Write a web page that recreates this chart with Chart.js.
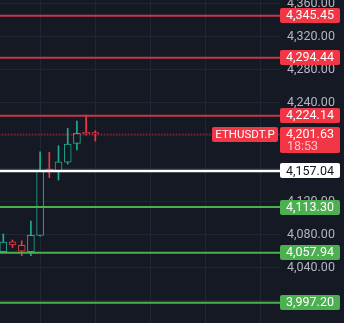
<!DOCTYPE html>
<html><head><meta charset="utf-8">
<script src="https://cdn.jsdelivr.net/npm/chart.js@4/dist/chart.umd.min.js"></script>
<style>html,body{margin:0;padding:0;background:#151924;overflow:hidden}#wrap{width:344px;height:323px;position:relative}</style>
</head><body><div id="wrap"><canvas id="c"></canvas></div>
<script>
// ---- data ----
const candleIndex = [0,1,2,3,4,5,6,7,8,9,10];
const opens  = [4059.1, 4071.2, 4066.9, 4059.1, 4079.0, 4159.4, 4156.2, 4167.6, 4190.6, 4204.0, 4203.7];
const highs  = [4080.6, 4073.3, 4072.3, 4096.3, 4180.4, 4179.7, 4187.7, 4208.8, 4217.7, 4225.0, 4205.9];
const lows   = [4058.5, 4064.2, 4054.1, 4054.2, 4078.0, 4149.0, 4146.1, 4165.5, 4182.5, 4200.7, 4193.4];
const closes = [4070.9, 4067.2, 4059.9, 4079.0, 4157.6, 4156.2, 4168.3, 4189.8, 4202.7, 4201.9, 4201.63];
const resistanceLevels = [4345.45, 4294.44, 4224.14];
const pivotLevels = [4157.04];
const supportLevels = [4113.30, 4057.94, 3997.20];
const lastPrice = 4201.63;
const symbolName = 'ETHUSDT.P';
const countdown = '18:53';
const yTickValues = [4000, 4040, 4080, 4120, 4160, 4200, 4240, 4280, 4320, 4360];
const xGridIndices = [4, 10, 16, 22, 28];

// ---- styles ----
const BG = '#151924';
const UP = '#22ab94', DOWN = '#f23645';
const RES_LINE = '#c23a48', RES_BOX = '#f23645';
const SUP_COLOR = '#4caf50';
const FONT = 'Roboto, "Liberation Sans", Arial, sans-serif';
const FS = 12.5;

const candleColors = candleIndex.map(i => closes[i] >= opens[i] ? UP : DOWN);
const fmt = v => v.toLocaleString('en-US', {minimumFractionDigits: 2, maximumFractionDigits: 2});

function levelLine(v, color, width, dash) {
  return {type: 'line', data: [{x: -5, y: v}, {x: 40, y: v}], borderColor: color, borderWidth: width,
    borderDash: dash || [], pointRadius: 0, order: 1, tension: 0};
}

const datasets = [
  {type: 'bar', data: candleIndex.map(i => ({x: i, y: [lows[i], highs[i]]})), backgroundColor: candleColors,
    borderWidth: 0, barThickness: 1, grouped: false, order: 4},
  {type: 'bar', data: candleIndex.map(i => ({x: i, y: [opens[i], closes[i]]})), backgroundColor: BG,
    borderColor: candleColors, borderWidth: 1, borderSkipped: false, barThickness: 7, grouped: false, order: 3},
  levelLine(lastPrice, DOWN, 1, [1, 2]),
  ...resistanceLevels.map(v => levelLine(v, RES_LINE, 2)),
  ...pivotLevels.map(v => levelLine(v, '#ffffff', 2.5)),
  ...supportLevels.map(v => levelLine(v, SUP_COLOR, 2)),
];

const labelPlugin = {
  id: 'priceLabels',
  afterDraw(chart) {
    const ctx = chart.ctx, ys = chart.scales.y, area = chart.chartArea;
    const bx = area.right, bw = 60, bh = 15;
    ctx.save();
    ctx.textAlign = 'center';
    ctx.textBaseline = 'middle';
    ctx.font = FS + 'px ' + FONT;
    function box(v, bg, fg) {
      const y = ys.getPixelForValue(v);
      ctx.fillStyle = bg;
      ctx.beginPath();
      ctx.roundRect(bx, Math.round(y - bh / 2), bw, bh, 2);
      ctx.fill();
      ctx.fillStyle = fg;
      ctx.fillText(fmt(v), bx + bw / 2, y + 0.5);
    }
    resistanceLevels.forEach(v => box(v, RES_BOX, '#ffffff'));
    pivotLevels.forEach(v => box(v, '#ffffff', '#131722'));
    supportLevels.forEach(v => box(v, SUP_COLOR, '#ffffff'));
    // last price label
    const y = ys.getPixelForValue(lastPrice);
    ctx.fillStyle = RES_BOX;
    ctx.beginPath();
    ctx.roundRect(bx, Math.round(y - 7), bw, 26, 2);
    ctx.fill();
    ctx.fillStyle = '#ffffff';
    ctx.fillText(fmt(lastPrice), bx + bw / 2, y + 0.5);
    ctx.fillStyle = 'rgba(255,255,255,0.7)';
    ctx.textAlign = 'left';
    ctx.fillText(countdown, bx + 7, y + 13);
    // symbol label
    ctx.fillStyle = RES_BOX;
    ctx.beginPath();
    ctx.roundRect(212, Math.round(y - 7), bx - 2 - 212, 15, 2);
    ctx.fill();
    ctx.fillStyle = '#ffffff';
    ctx.textAlign = 'center';
    ctx.font = '11.5px ' + FONT;
    ctx.fillText(symbolName, (212 + bx - 2) / 2, y + 0.5);
    ctx.restore();
  }
};

new Chart(document.getElementById('c'), {
  type: 'bar',
  data: {datasets},
  plugins: [labelPlugin],
  options: {
    responsive: true, maintainAspectRatio: false, animation: false,
    layout: {padding: 0},
    plugins: {legend: {display: false}, tooltip: {enabled: false}},
    scales: {
      x: {type: 'linear', min: -0.359, max: 30.07, offset: false,
        grid: {color: '#222633', offset: false, drawTicks: false}, border: {display: false},
        ticks: {display: false},
        afterBuildTicks: s => { s.ticks = xGridIndices.map(v => ({value: v})); },
        afterFit: s => { s.height = 0; s.paddingLeft = 0; s.paddingRight = 0; s.paddingTop = 0; s.paddingBottom = 0; }},
      y: {type: 'linear', position: 'right', min: 3972.6, max: 4364.5,
        grid: {color: '#222633', drawTicks: false}, border: {display: false},
        ticks: {color: '#b2b5be', font: {size: FS, family: FONT}, padding: 7,
          callback: v => fmt(v)},
        afterBuildTicks: s => { s.ticks = yTickValues.map(v => ({value: v})); },
        afterFit: s => { s.width = 64; s.paddingTop = 0; s.paddingBottom = 0; s.paddingLeft = 0; s.paddingRight = 0; }}
    }
  }
});
</script></body></html>
